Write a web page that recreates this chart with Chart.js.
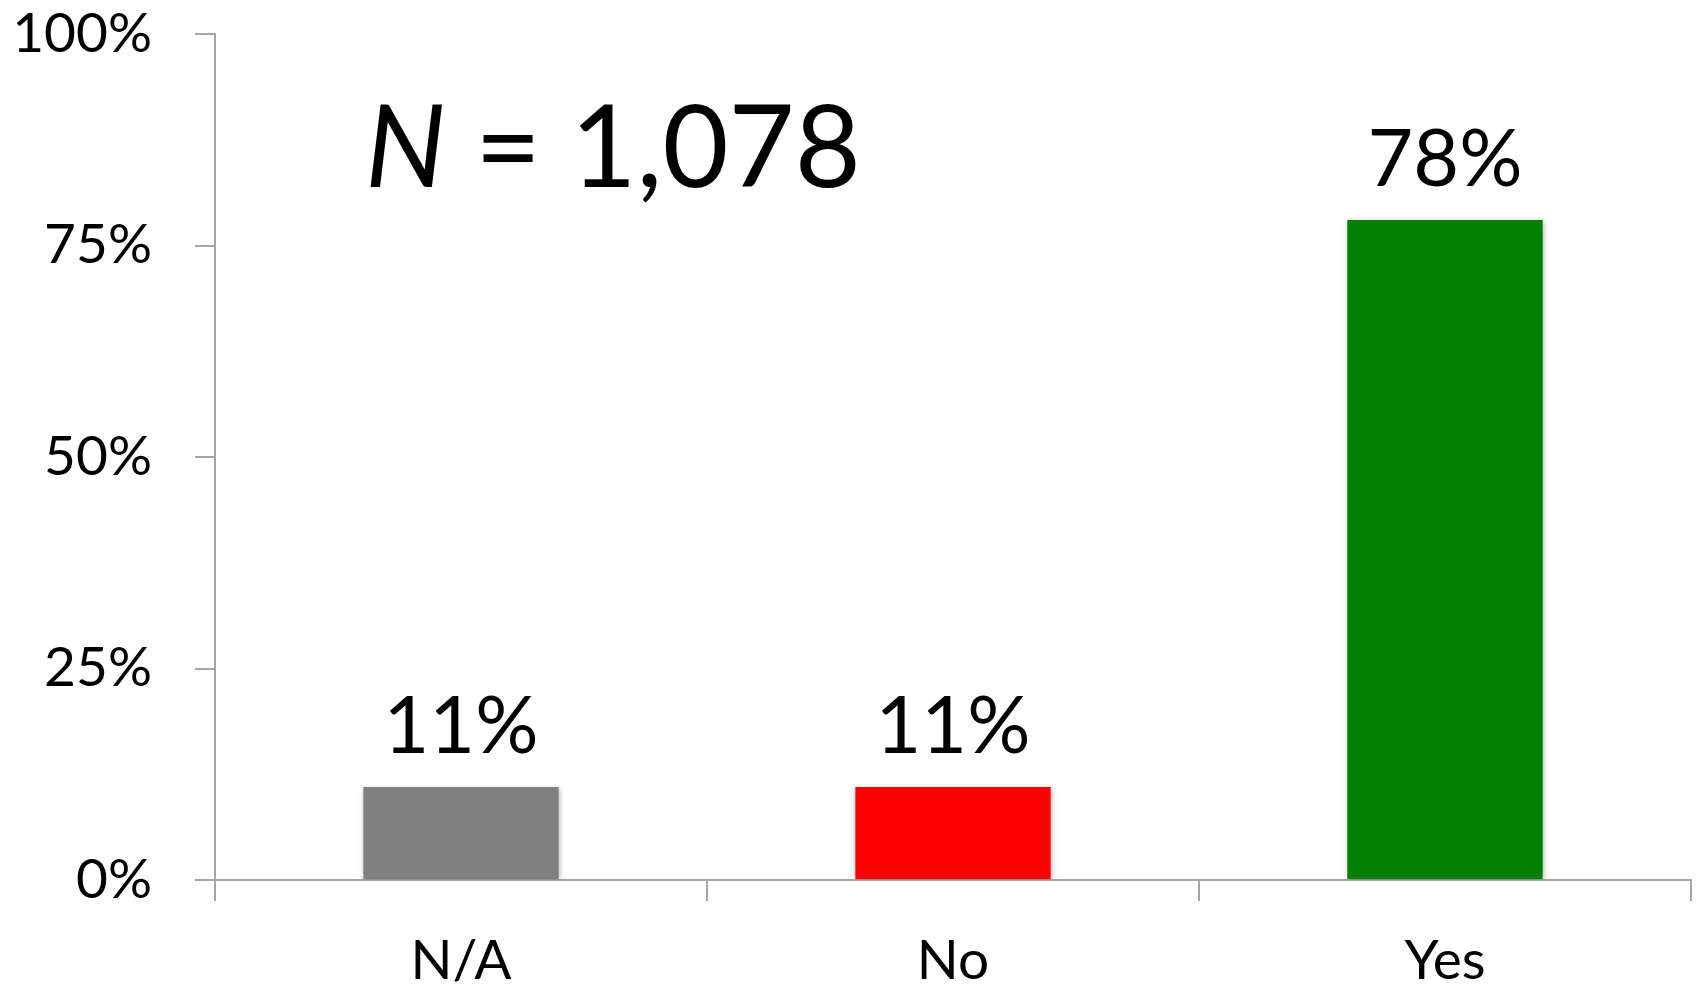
<!DOCTYPE html>
<html>
<head>
<meta charset="utf-8">
<title>Responses</title>
<script src="https://cdn.jsdelivr.net/npm/chart.js@4/dist/chart.umd.min.js"></script>
<style>
  html, body { margin: 0; padding: 0; background: #fff; }
  #wrap { width: 1702px; height: 992px; }
</style>
</head>
<body>
<div id="wrap"><canvas id="responseChart" width="1702" height="992"></canvas></div>
<script>
const categories = ["N/A", "No", "Yes"];
const shares = [11, 11, 78];
const yTickValues = [0, 25, 50, 75, 100];
const sampleSize = "1,078";

const barColors = ["#808080", "#ff0000", "#008000"];
const FONT = "Lato, 'Liberation Sans', sans-serif";
const AXIS_GREY = "#a6a6a6";

// soft drop shadow under the bars
const barShadow = {
  id: "barShadow",
  beforeDatasetsDraw(chart) {
    const ctx = chart.ctx;
    ctx.save();
    ctx.shadowColor = "rgba(0,0,0,0.28)";
    ctx.shadowBlur = 5;
    ctx.shadowOffsetX = 1;
    ctx.shadowOffsetY = 1;
  },
  afterDatasetsDraw(chart) {
    chart.ctx.restore();
  }
};

// value labels above bars and the sample size note
const annotations = {
  id: "annotations",
  afterDraw(chart) {
    const ctx = chart.ctx;
    const meta = chart.getDatasetMeta(0);
    ctx.save();
    ctx.fillStyle = "#000";
    ctx.textAlign = "center";
    ctx.textBaseline = "alphabetic";
    ctx.font = "79px " + FONT;
    meta.data.forEach((bar, i) => {
      ctx.fillText(shares[i] + "%", bar.x, bar.y - 34);
    });

    ctx.textAlign = "left";
    const x0 = chart.chartArea.left + 150;
    const base = 187;
    ctx.font = "italic 114px " + FONT;
    ctx.fillText("N", x0, base);
    const w = ctx.measureText("N").width;
    ctx.font = "114px " + FONT;
    ctx.fillText(" = " + sampleSize, x0 + w, base);
    ctx.restore();
  }
};

new Chart(document.getElementById("responseChart"), {
  type: "bar",
  data: {
    labels: categories,
    datasets: [{
      data: shares,
      backgroundColor: barColors,
      borderWidth: 0,
      categoryPercentage: 1,
      barPercentage: 0.397
    }]
  },
  options: {
    responsive: false,
    animation: false,
    events: [],
    layout: { padding: { top: 34, right: 11, left: 0, bottom: 0 } },
    plugins: { legend: { display: false }, tooltip: { enabled: false } },
    scales: {
      x: {
        offset: true,
        grid: {
          offset: true,
          drawOnChartArea: false,
          tickLength: 21,
          lineWidth: 2,
          color: AXIS_GREY
        },
        border: { color: AXIS_GREY, width: 2 },
        ticks: {
          color: "#000",
          padding: 27,
          maxRotation: 0,
          font: { family: FONT, size: 55 }
        },
        afterFit(scale) {
          scale.height = 112;
          scale.paddingLeft = 0;
          scale.paddingRight = 0;
        }
      },
      y: {
        min: 0,
        max: 100,
        afterBuildTicks(scale) {
          scale.ticks = yTickValues.map(v => ({ value: v }));
        },
        grid: {
          drawOnChartArea: false,
          tickLength: 20,
          lineWidth: 2,
          color: AXIS_GREY
        },
        border: { color: AXIS_GREY, width: 2 },
        ticks: {
          color: "#000",
          padding: 43,
          font: { family: FONT, size: 55, lineHeight: 1 },
          callback: v => v + "%"
        },
        afterFit(scale) {
          scale.width = 215;
          scale.paddingTop = 0;
          scale.paddingBottom = 0;
        }
      }
    }
  },
  plugins: [barShadow, annotations]
});
</script>
</body>
</html>
